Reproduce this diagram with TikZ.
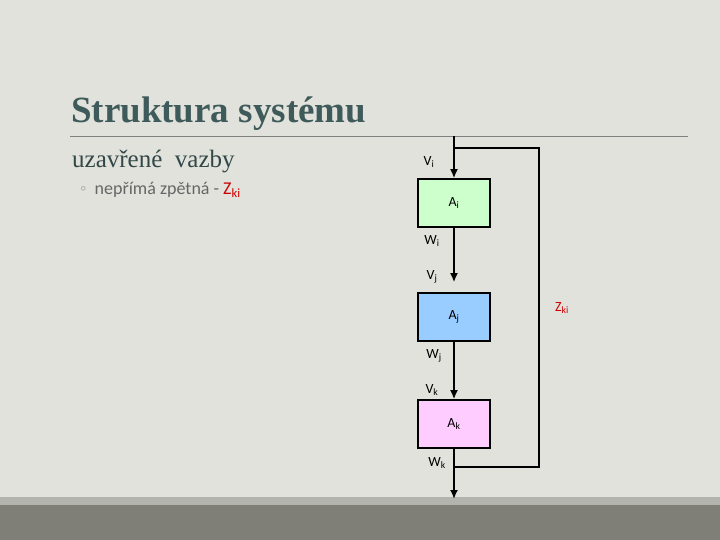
\documentclass[tikz,border=0pt]{standalone}
\usepackage{fontspec}
\setmainfont{Liberation Serif}
\newfontfamily\calib{Carlito}
\definecolor{bg}{HTML}{E2E2DC}
\definecolor{band}{HTML}{7F7F78}
\definecolor{bandl}{HTML}{B4B4AE}
\definecolor{ttl}{HTML}{3F5A5A}
\definecolor{cgreen}{HTML}{CCFFCC}
\definecolor{cblue}{HTML}{99CCFF}
\definecolor{cpink}{HTML}{FFCCFF}
\definecolor{zred}{HTML}{CC0000}
\tikzset{blk/.style={draw=black,line width=1.6pt,minimum width=72pt,minimum height=48pt,inner sep=0pt,font=\calib\fontsize{14}{16}\selectfont},
lab/.style={font=\calib\fontsize{14}{16}\selectfont,inner sep=0pt},
wire/.style={line width=2.4pt,-{Latex[length=9pt,width=8pt]}},
fb/.style={line width=2pt}}
\usetikzlibrary{arrows.meta}
\begin{document}
\begin{tikzpicture}[x=1pt,y=-1pt]
\fill[bg] (0,0) rectangle (720,540);
\useasboundingbox (0,0) rectangle (720,540);
\fill[bandl] (0,497) rectangle (720,505);
\fill[band] (0,505) rectangle (720,540);
\draw[gray,line width=0.8pt] (70,136) -- (688,136);
\node[anchor=west,inner sep=0pt,text=ttl,font=\bfseries\fontsize{37}{42}\selectfont] (title) at (71,114) {Struktura systému};
\node[anchor=west,inner sep=0pt,text=ttl!80!black,font=\fontsize{25}{30}\selectfont] (sub) at (72,162) {uzavřené\ \ vazby};
\node[anchor=west,inner sep=0pt,font=\calib\fontsize{18}{20}\selectfont,text=gray!80!black] (bul) at (80,190) {\textcolor{gray!60}{◦}\ \ nepřímá zpětná - \textcolor{zred}{Z\textsubscript{ki}}};
\node[blk,fill=cgreen] (Ai) at (454,203) {A\textsubscript{i}};
\node[blk,fill=cblue] (Aj) at (454,317) {A\textsubscript{j}};
\node[blk,fill=cpink] (Ak) at (454,424) {A\textsubscript{k}};
\coordinate (top) at (454,136);
\coordinate (bot) at (454,499);
\coordinate (tr) at (539,148);
\coordinate (br) at (539,467);
\coordinate (tl) at (454,148);
\coordinate (bl) at (454,467);
\draw[wire] (top) -- (Ai.north);
\draw[wire] (Ai.south) -- ([yshift=10pt]Aj.north);
\draw[wire] (Aj.south) -- (Ak.north);
\draw[wire] (Ak.south) -- (bot);
\draw[fb] (tl) -- (tr) -- (br) -- (bl);
\node[lab] (vi) at (429,162) {V\textsubscript{i}};
\node[lab] (wi) at (432,241) {W\textsubscript{i}};
\node[lab] (vj) at (432,277) {V\textsubscript{j}};
\node[lab] (wj) at (434,356) {W\textsubscript{j}};
\node[lab] (vk) at (432,390) {V\textsubscript{k}};
\node[lab] (wk) at (437,463) {W\textsubscript{k}};
\node[lab,text=zred] (zki) at (562,308) {Z\textsubscript{ki}};
\end{tikzpicture}
\end{document}
